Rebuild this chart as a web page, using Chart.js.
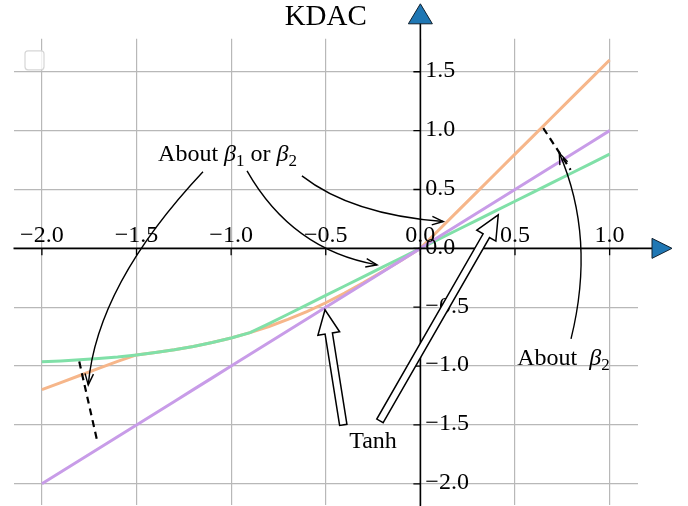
<!DOCTYPE html>
<html>
<head>
<meta charset="utf-8">
<script src="https://cdn.jsdelivr.net/npm/chart.js@4.4.0/dist/chart.umd.min.js"></script>
<style>
  html, body { margin: 0; padding: 0; background: #fff; }
</style>
</head>
<body>
<canvas id="kdacChart" width="688" height="506"></canvas>
<script>
// Abscisses communes aux trois courbes
const xs = [-2.0, -1.9, -1.8, -1.7, -1.6, -1.5, -1.4, -1.3, -1.2, -1.1, -1.0,
  -0.9, -0.8, -0.7, -0.6, -0.5, -0.4, -0.3, -0.2, -0.1, 0.0,
  0.1, 0.2, 0.3, 0.4, 0.5, 0.6, 0.7, 0.8, 0.9, 1.0];

// Identité (violet)
const identityY = [-2.0, -1.9, -1.8, -1.7, -1.6, -1.5, -1.4, -1.3, -1.2, -1.1, -1.0,
  -0.9, -0.8, -0.7, -0.6, -0.5, -0.4, -0.3, -0.2, -0.1, 0.0,
  0.1, 0.2, 0.3, 0.4, 0.5, 0.6, 0.7, 0.8, 0.9, 1.0];

// KDAC, pentes faibles (vert)
const kdacLowY = [-0.964, -0.956, -0.947, -0.935, -0.922, -0.905, -0.885, -0.862, -0.834, -0.800, -0.762,
  -0.716, -0.64, -0.56, -0.48, -0.40, -0.32, -0.24, -0.16, -0.08, 0.0,
  0.08, 0.16, 0.24, 0.32, 0.40, 0.48, 0.56, 0.64, 0.72, 0.80];

// KDAC, pentes fortes (orange)
const kdacHighY = [-1.20, -1.14, -1.08, -1.02, -0.96, -0.905, -0.885, -0.862, -0.834, -0.800, -0.762,
  -0.716, -0.664, -0.604, -0.537, -0.462, -0.380, -0.291, -0.197, -0.100, 0.0,
  0.16, 0.32, 0.48, 0.64, 0.80, 0.96, 1.12, 1.28, 1.44, 1.60];

const xTicks = [-2.0, -1.5, -1.0, -0.5, 0.0, 0.5, 1.0];
const xTickLabels = ["\u22122.0", "\u22121.5", "\u22121.0", "\u22120.5", "0.0", "0.5", "1.0"];
const yTicks = [-2.0, -1.5, -1.0, -0.5, 0.0, 0.5, 1.0, 1.5];
const yTickLabels = ["\u22122.0", "\u22121.5", "\u22121.0", "\u22120.5", "0.0", "0.5", "1.0", "1.5"];

const SERIF = "'Liberation Serif', 'Times New Roman', serif";

const toPoints = (ys) => xs.map((x, i) => ({ x: x, y: ys[i] }));

// Annotations (coordonnées en unités des données)
const notes = {
  texts: [
    { runs: [["About ", "n"], ["\u03b2", "i"], ["1", "s"], [" or ", "n"], ["\u03b2", "i"], ["2", "s"]], at: [-1.019, 0.739] },
    { runs: [["About  ", "n"], ["\u03b2", "i"], ["2", "s"]], at: [0.756, -0.990] },
    { runs: [["Tanh", "n"]], at: [-0.2505, -1.698] },
  ],
  curves: [
    { from: [-1.1487, 0.650], ctrl: [-1.709, -0.310], to: [-1.755, -1.160] },
    { from: [-0.916, 0.658], ctrl: [-0.6785, -0.0127], to: [-0.229, -0.140] },
    { from: [-0.626, 0.616], ctrl: [-0.3636, 0.287], to: [0.121, 0.228] },
    { from: [0.796, -0.769], ctrl: [0.928, 0.089], to: [0.734, 0.809] },
  ],
  dashes: [
    { from: [-1.8025, -0.962], to: [-1.707, -1.641] },
    { from: [0.6494, 1.021], to: [0.794, 0.667] },
  ],
  blocks: [
    { from: [-0.4074, -1.4996], to: [-0.504, -0.522] },
    { from: [-0.2135, -1.4655], to: [0.4116, 0.2846] },
  ],
};

function px(chart, p) {
  return [chart.scales.x.getPixelForValue(p[0]), chart.scales.y.getPixelForValue(p[1])];
}

function drawRuns(ctx, runs, cx, by, size) {
  const fontFor = (k) =>
    k === "i" ? `italic ${size}px ${SERIF}` : k === "s" ? `${Math.round(size * 0.7)}px ${SERIF}` : `${size}px ${SERIF}`;
  let total = 0;
  runs.forEach(([t, k]) => { ctx.font = fontFor(k); total += ctx.measureText(t).width; });
  let x = cx - total / 2;
  ctx.textAlign = "left";
  ctx.textBaseline = "alphabetic";
  runs.forEach(([t, k]) => {
    ctx.font = fontFor(k);
    ctx.fillText(t, x, k === "s" ? by + size * 0.2 : by);
    x += ctx.measureText(t).width;
  });
}

function curvedArrow(ctx, s, c, e) {
  ctx.beginPath();
  ctx.moveTo(s[0], s[1]);
  ctx.quadraticCurveTo(c[0], c[1], e[0], e[1]);
  ctx.stroke();
  const a = Math.atan2(e[1] - c[1], e[0] - c[0]);
  const len = 12, spread = 0.36;
  ctx.beginPath();
  ctx.moveTo(e[0] - len * Math.cos(a - spread), e[1] - len * Math.sin(a - spread));
  ctx.lineTo(e[0], e[1]);
  ctx.lineTo(e[0] - len * Math.cos(a + spread), e[1] - len * Math.sin(a + spread));
  ctx.stroke();
}

function blockArrow(ctx, t, p) {
  const dx = p[0] - t[0], dy = p[1] - t[1];
  const d = Math.hypot(dx, dy);
  const ux = dx / d, uy = dy / d, nx = -uy, ny = ux;
  const headLen = 24, headHalf = 11, tailHalf = 3.7;
  const bx = p[0] - ux * headLen, by = p[1] - uy * headLen;
  const pts = [
    [t[0] + nx * tailHalf, t[1] + ny * tailHalf],
    [bx + nx * tailHalf, by + ny * tailHalf],
    [bx + nx * headHalf, by + ny * headHalf],
    p,
    [bx - nx * headHalf, by - ny * headHalf],
    [bx - nx * tailHalf, by - ny * tailHalf],
    [t[0] - nx * tailHalf, t[1] - ny * tailHalf],
  ];
  ctx.beginPath();
  pts.forEach((q, i) => (i ? ctx.lineTo(q[0], q[1]) : ctx.moveTo(q[0], q[1])));
  ctx.closePath();
  ctx.fillStyle = "#ffffff";
  ctx.fill();
  ctx.lineWidth = 1.5;
  ctx.strokeStyle = "#000";
  ctx.stroke();
}

// Axes centrés sur l'origine, flèches, graduations et annotations
const centerAxesPlugin = {
  id: "centerAxes",
  afterDatasetsDraw: (chart) => {
    const { ctx, chartArea, scales } = chart;
    const ox = scales.x.getPixelForValue(0);
    const oy = scales.y.getPixelForValue(0);
    ctx.save();

    // légende vide
    ctx.beginPath();
    ctx.roundRect(chartArea.left + 11.5, chartArea.top + 12, 19, 19, 3);
    ctx.fillStyle = "rgba(255,255,255,0.8)";
    ctx.fill();
    ctx.strokeStyle = "#d6d6d6";
    ctx.lineWidth = 1.2;
    ctx.stroke();

    // axes
    ctx.strokeStyle = "#000";
    ctx.lineWidth = 1.6;
    ctx.beginPath();
    ctx.moveTo(chartArea.left, oy);
    ctx.lineTo(chartArea.right + 16, oy);
    ctx.moveTo(ox, chartArea.bottom + 2);
    ctx.lineTo(ox, chartArea.top - 16);
    ctx.stroke();

    // graduations
    ctx.lineWidth = 1.3;
    ctx.beginPath();
    xTicks.forEach((v) => {
      const x = scales.x.getPixelForValue(v);
      ctx.moveTo(x, oy);
      ctx.lineTo(x, oy + 7);
    });
    yTicks.forEach((v) => {
      const y = scales.y.getPixelForValue(v);
      ctx.moveTo(ox - 7, y);
      ctx.lineTo(ox, y);
    });
    ctx.stroke();

    // flèches bleues
    ctx.fillStyle = "#1f77b4";
    ctx.strokeStyle = "#10202e";
    ctx.lineWidth = 1;
    const ty = chartArea.top - 25;
    ctx.beginPath();
    ctx.moveTo(ox, ty - 10);
    ctx.lineTo(ox + 12, ty + 10);
    ctx.lineTo(ox - 12, ty + 10);
    ctx.closePath();
    ctx.fill();
    ctx.stroke();
    const rx = chartArea.right + 24;
    ctx.beginPath();
    ctx.moveTo(rx + 10, oy);
    ctx.lineTo(rx - 10, oy - 10);
    ctx.lineTo(rx - 10, oy + 10);
    ctx.closePath();
    ctx.fill();
    ctx.stroke();

    // étiquettes
    ctx.fillStyle = "#000";
    ctx.font = `24px ${SERIF}`;
    ctx.textAlign = "center";
    ctx.textBaseline = "alphabetic";
    xTicks.forEach((v, i) => {
      ctx.fillText(xTickLabels[i], scales.x.getPixelForValue(v), oy - 6);
    });
    ctx.textAlign = "left";
    ctx.textBaseline = "middle";
    yTicks.forEach((v, i) => {
      ctx.fillText(yTickLabels[i], ox + 5, scales.y.getPixelForValue(v) - 1);
    });

    // traits pointillés
    ctx.strokeStyle = "#000";
    ctx.lineWidth = 2.2;
    ctx.setLineDash([7, 5]);
    notes.dashes.forEach((d) => {
      const a = px(chart, d.from), b = px(chart, d.to);
      ctx.beginPath();
      ctx.moveTo(a[0], a[1]);
      ctx.lineTo(b[0], b[1]);
      ctx.stroke();
    });
    ctx.setLineDash([]);

    // flèches courbes
    ctx.lineWidth = 1.4;
    notes.curves.forEach((c) => curvedArrow(ctx, px(chart, c.from), px(chart, c.ctrl), px(chart, c.to)));

    // flèches pleines
    notes.blocks.forEach((b) => blockArrow(ctx, px(chart, b.from), px(chart, b.to)));

    // textes
    ctx.fillStyle = "#000";
    notes.texts.forEach((t) => {
      const p = px(chart, t.at);
      drawRuns(ctx, t.runs, p[0], p[1], 24);
    });

    ctx.restore();
  },
};

const ctx = document.getElementById("kdacChart").getContext("2d");
const kdacChart = new Chart(ctx, {
  type: "line",
  data: {
    datasets: [
      { label: "Identité", data: toPoints(identityY), borderColor: "#c89ce8" },
      { label: "KDAC bas", data: toPoints(kdacLowY), borderColor: "#80e0a8" },
      { label: "KDAC haut", data: toPoints(kdacHighY), borderColor: "#f6b68a" },
    ],
  },
  options: {
    responsive: false,
    animation: false,
    events: [],
    elements: {
      point: { radius: 0 },
      line: { borderWidth: 3, tension: 0 },
    },
    layout: {
      autoPadding: false,
      padding: { left: 13.5, right: 50, top: 0, bottom: 1 },
    },
    scales: {
      x: {
        type: "linear",
        min: -2.15,
        max: 1.15,
        afterBuildTicks: (axis) => {
          axis.ticks = xTicks.map((v) => ({ value: v }));
        },
        ticks: { display: false },
        border: { display: false },
        grid: { color: "#b8b8b8", lineWidth: 1.2, drawTicks: false },
      },
      y: {
        type: "linear",
        min: -2.18,
        max: 1.78,
        afterBuildTicks: (axis) => {
          axis.ticks = yTicks.map((v) => ({ value: v }));
        },
        ticks: { display: false },
        border: { display: false },
        grid: { color: "#b8b8b8", lineWidth: 1.2, drawTicks: false },
      },
    },
    plugins: {
      legend: { display: false },
      tooltip: { enabled: false },
      title: {
        display: true,
        text: "KDAC",
        color: "#000",
        font: { family: SERIF, size: 29, weight: "normal" },
        padding: { top: 0, bottom: 4 },
      },
    },
  },
  plugins: [centerAxesPlugin],
});
</script>
</body>
</html>
